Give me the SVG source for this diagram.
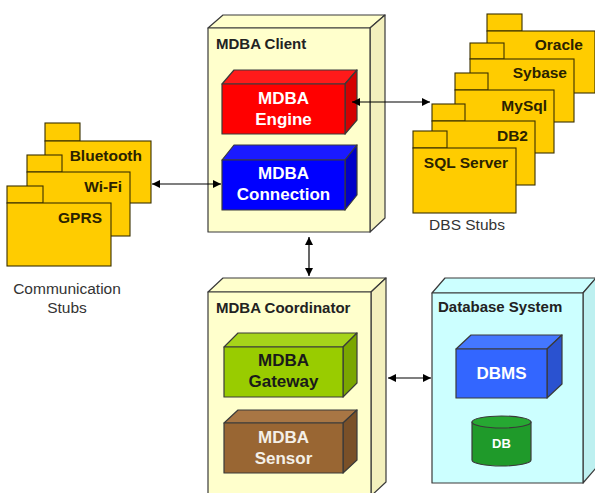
<svg xmlns="http://www.w3.org/2000/svg" width="595" height="493" viewBox="0 0 595 493">
  <style>
    .node-face { stroke: #3a3a3a; stroke-width: 1.2; stroke-linejoin: round; }
    .host { fill: #ffffcc; }
    .host-side { fill: #f3f0bd; }
    .dbsys { fill: #ccffff; }
    .dbsys-side { fill: #bdf0f0; }
    .title { font-family: "Liberation Sans", Arial, sans-serif; font-weight: bold; font-size: 15px; fill: #222; }
    .lbl { font-family: "Liberation Sans", Arial, sans-serif; font-weight: bold; font-size: 17px; text-anchor: middle; }
    .pkg { fill: #ffcc00; stroke: #3a3000; stroke-width: 1.1; }
    .pkg-lbl { font-family: "Liberation Sans", Arial, sans-serif; font-weight: bold; font-size: 15.5px; fill: #2a2200; text-anchor: end; }
    .caption { font-family: "Liberation Sans", Arial, sans-serif; font-size: 15.5px; fill: #333; text-anchor: middle; }
    .conn { stroke: #000; stroke-width: 1.2; fill: none; marker-start: url(#arrow); marker-end: url(#arrow); }
  </style>
  <defs>
    <marker id="arrow" viewBox="0 0 10 10" refX="10" refY="5" markerWidth="9" markerHeight="8" markerUnits="userSpaceOnUse" orient="auto-start-reverse">
      <path d="M0,0 L10,5 L0,10 Z" fill="#000"/>
    </marker>
  </defs>

  <rect width="595" height="493" fill="#ffffff"/>

  <!-- Communication stub packages -->
  <g id="comm-stubs">
    <g id="pkg-bluetooth">
      <rect class="pkg" x="45" y="123" width="35" height="18"/>
      <rect class="pkg" x="45" y="141" width="106" height="62"/>
      <text class="pkg-lbl" x="142" y="161">Bluetooth</text>
    </g>
    <g id="pkg-wifi">
      <rect class="pkg" x="27" y="155" width="35" height="17"/>
      <rect class="pkg" x="27" y="172" width="103" height="64"/>
      <text class="pkg-lbl" x="122" y="192">Wi-Fi</text>
    </g>
    <g id="pkg-gprs">
      <rect class="pkg" x="7" y="186" width="36" height="17"/>
      <rect class="pkg" x="7" y="203" width="104" height="63"/>
      <text class="pkg-lbl" x="102" y="223">GPRS</text>
    </g>
    <text class="caption" x="67" y="294">Communication</text>
    <text class="caption" x="67" y="313">Stubs</text>
  </g>

  <!-- DBS stub packages -->
  <g id="dbs-stubs">
    <g id="pkg-oracle">
      <rect class="pkg" x="487" y="14" width="35" height="17"/>
      <rect class="pkg" x="487" y="31" width="108" height="62"/>
      <text class="pkg-lbl" x="583" y="50">Oracle</text>
    </g>
    <g id="pkg-sybase">
      <rect class="pkg" x="470" y="43" width="34" height="16"/>
      <rect class="pkg" x="470" y="59" width="104" height="63"/>
      <text class="pkg-lbl" x="567" y="78">Sybase</text>
    </g>
    <g id="pkg-mysql">
      <rect class="pkg" x="455" y="73" width="33" height="17"/>
      <rect class="pkg" x="455" y="90" width="99" height="63"/>
      <text class="pkg-lbl" x="547" y="111">MySql</text>
    </g>
    <g id="pkg-db2">
      <rect class="pkg" x="432" y="104" width="33" height="17"/>
      <rect class="pkg" x="432" y="121" width="103" height="64"/>
      <text class="pkg-lbl" x="528" y="141">DB2</text>
    </g>
    <g id="pkg-sqlserver">
      <rect class="pkg" x="413" y="131" width="34" height="17"/>
      <rect class="pkg" x="413" y="148" width="103" height="65"/>
      <text class="pkg-lbl" x="508" y="168">SQL Server</text>
    </g>
    <text class="caption" x="467" y="230">DBS Stubs</text>
  </g>

  <!-- MDBA Client node -->
  <g id="mdba-client">
    <path class="node-face host" d="M208,28 L223,15 L385,15 L370,28 Z"/>
    <path class="node-face host-side" d="M370,28 L385,15 L385,218 L370,232 Z"/>
    <rect class="node-face host" x="208" y="28" width="162" height="204"/>
    <text class="title" x="216" y="49">MDBA Client</text>
  </g>

  <g id="mdba-engine">
    <path class="node-face" fill="#ff1a1a" d="M222,84 L234,70 L357,70 L345,84 Z"/>
    <path class="node-face" fill="#d40000" d="M345,84 L357,70 L357,120 L345,134 Z"/>
    <rect class="node-face" fill="#ff0000" x="222" y="84" width="123" height="50"/>
    <text class="lbl" fill="#ffffff" x="283.5" y="104">MDBA</text>
    <text class="lbl" fill="#ffffff" x="283.5" y="125">Engine</text>
  </g>

  <g id="mdba-connection">
    <path class="node-face" fill="#1a1aff" d="M222,160 L234,145 L357,145 L345,160 Z"/>
    <path class="node-face" fill="#0000c8" d="M345,160 L357,145 L357,195 L345,210 Z"/>
    <rect class="node-face" fill="#0000ff" x="222" y="160" width="123" height="50"/>
    <text class="lbl" fill="#ffffff" x="283.5" y="179">MDBA</text>
    <text class="lbl" fill="#ffffff" x="283.5" y="200">Connection</text>
  </g>

  <!-- MDBA Coordinator node -->
  <g id="mdba-coordinator">
    <path class="node-face host" d="M208,292 L223,278 L386,278 L371,292 Z"/>
    <path class="node-face host-side" d="M371,292 L386,278 L386,482 L371,496 Z"/>
    <rect class="node-face host" x="208" y="292" width="163" height="204"/>
    <text class="title" x="216" y="313">MDBA Coordinator</text>
  </g>

  <g id="mdba-gateway">
    <path class="node-face" fill="#a6d41a" d="M224,347 L238,333 L357,333 L343,347 Z"/>
    <path class="node-face" fill="#7aa600" d="M343,347 L357,333 L357,383 L343,397 Z"/>
    <rect class="node-face" fill="#99cc00" x="224" y="347" width="119" height="50"/>
    <text class="lbl" fill="#1a1a1a" x="283.5" y="366">MDBA</text>
    <text class="lbl" fill="#1a1a1a" x="283.5" y="387">Gateway</text>
  </g>

  <g id="mdba-sensor">
    <path class="node-face" fill="#a87644" d="M224,423 L238,410 L357,410 L343,423 Z"/>
    <path class="node-face" fill="#7a5028" d="M343,423 L357,410 L357,460 L343,473 Z"/>
    <rect class="node-face" fill="#996633" x="224" y="423" width="119" height="50"/>
    <text class="lbl" fill="#f4f0e8" x="283.5" y="443">MDBA</text>
    <text class="lbl" fill="#f4f0e8" x="283.5" y="464">Sensor</text>
  </g>

  <!-- Database System node -->
  <g id="database-system">
    <path class="node-face dbsys" d="M432,293 L445,278 L596,278 L583,293 Z"/>
    <path class="node-face dbsys-side" d="M583,293 L596,278 L596,468 L583,483 Z"/>
    <rect class="node-face dbsys" x="432" y="293" width="151" height="190"/>
    <text class="title" x="438" y="312">Database System</text>
  </g>

  <g id="dbms">
    <path class="node-face" fill="#4477ff" d="M456,349 L471,335 L562,335 L547,349 Z"/>
    <path class="node-face" fill="#2a52d0" d="M547,349 L562,335 L562,384 L547,398 Z"/>
    <rect class="node-face" fill="#3366ff" x="456" y="349" width="91" height="49"/>
    <text class="lbl" fill="#ffffff" x="501.5" y="379">DBMS</text>
  </g>

  <g id="db">
    <path class="node-face" fill="#1f9a2a" d="M472,422 L472,460 A29.5,6 0 0 0 531,460 L531,422 Z"/>
    <ellipse class="node-face" fill="#26a832" cx="501.5" cy="422" rx="29.5" ry="6"/>
    <text class="lbl" fill="#ffffff" style="font-size:13px" x="501.5" y="448">DB</text>
  </g>

  <!-- Connectors -->
  <g id="connectors">
    <line class="conn" x1="352" y1="102" x2="430" y2="102"/>
    <line class="conn" x1="152" y1="184" x2="221" y2="184"/>
    <line class="conn" x1="309" y1="237" x2="309" y2="276"/>
    <line class="conn" x1="388" y1="378" x2="431" y2="378"/>
  </g>
</svg>
